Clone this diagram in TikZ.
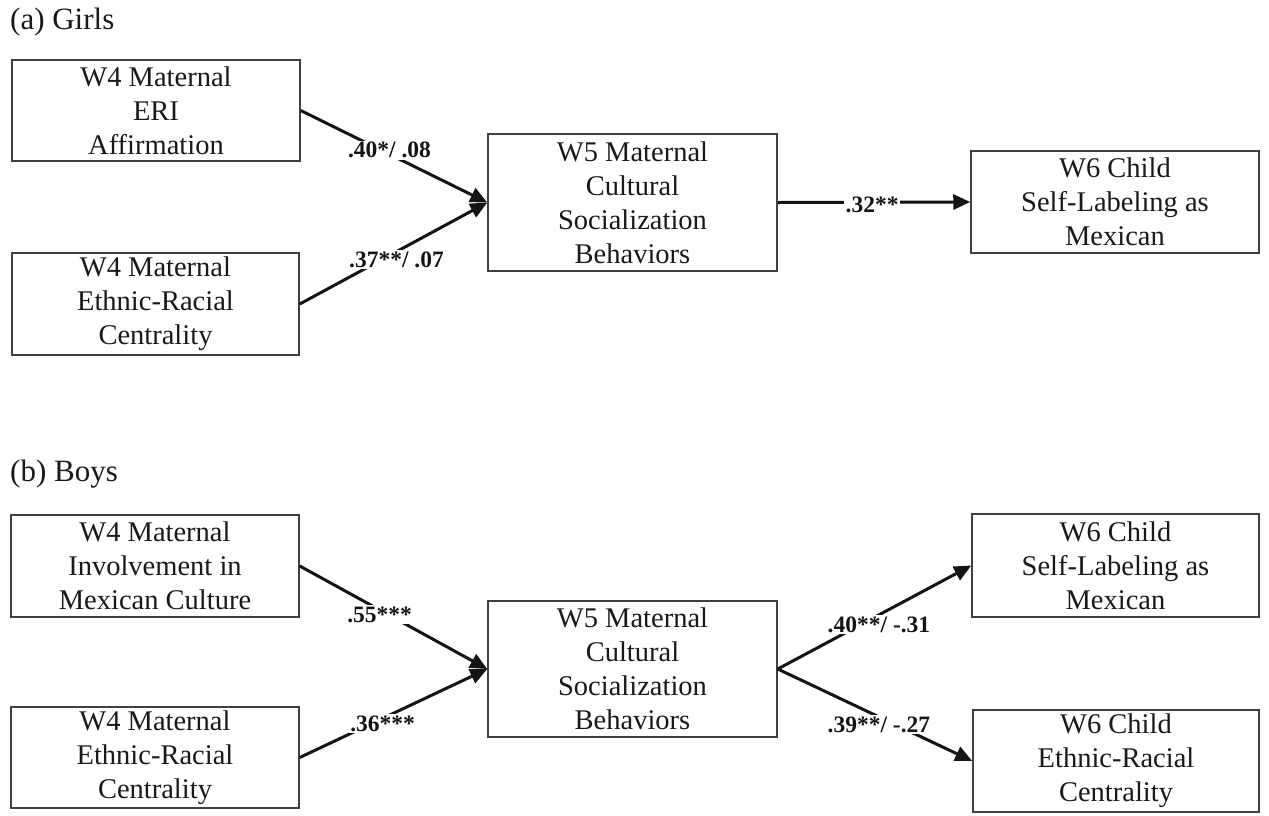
\documentclass[tikz,border=0pt]{standalone}
\usepackage{fontspec}
\setmainfont{Liberation Serif}
\usetikzlibrary{arrows.meta}
\begin{document}
\begin{tikzpicture}[x=1pt,y=-1pt,
  box/.style={draw=black!75, line width=1.5pt, rectangle, align=center, inner sep=0pt,
    font=\fontsize{28.5}{34}\selectfont, text=black!90},
  arr/.style={line width=3pt, -{Triangle[length=17pt,width=15pt]}, black!92},
  lbl/.style={fill=white, inner sep=1.5pt, font=\bfseries\fontsize{23.5}{28}\selectfont, text=black!92},
  ttl/.style={anchor=base west, inner sep=0pt, font=\fontsize{31}{36}\selectfont, text=black!90}]
\useasboundingbox (0,0) rectangle (1269,815);
% (a) Girls
\node[ttl] (ta) at (10,29) {(a) Girls};
\node[box, minimum width=288, minimum height=101] (A1) at (156,110.5) {W4 Maternal\\ERI\\Affirmation};
\node[box, minimum width=287, minimum height=102] (A2) at (155.5,304) {W4 Maternal\\Ethnic-Racial\\Centrality};
\node[box, minimum width=289, minimum height=137] (MG) at (632.5,202.5) {W5 Maternal\\Cultural\\Socialization\\Behaviors};
\node[box, minimum width=288, minimum height=102] (CG) at (1115,202) {W6 Child\\Self-Labeling as\\Mexican};
\draw[arr] (A1.east) -- node[lbl, pos=0.476, yshift=4pt] {.40*/ .08} (MG.west);
\draw[arr] (A2.east) -- node[lbl, pos=0.516, yshift=-8pt] {.37**/ .07} (MG.west);
\draw[arr] (MG.east) -- node[lbl, pos=0.49, yshift=-3pt] {.32**} (CG.west);
% (b) Boys
\node[ttl] (tb) at (10,481) {(b) Boys};
\node[box, minimum width=288, minimum height=102] (B1) at (155,566) {W4 Maternal\\Involvement in\\Mexican Culture};
\node[box, minimum width=288, minimum height=101] (B2) at (155,757.5) {W4 Maternal\\Ethnic-Racial\\Centrality};
\node[box, minimum width=289, minimum height=136] (MB) at (632.5,669) {W5 Maternal\\Cultural\\Socialization\\Behaviors};
\node[box, minimum width=287, minimum height=103] (C1) at (1115.5,565.5) {W6 Child\\Self-Labeling as\\Mexican};
\node[box, minimum width=286, minimum height=102] (C2) at (1116,761) {W6 Child\\Ethnic-Racial\\Centrality};
\draw[arr] (B1.east) -- node[lbl, pos=0.426, yshift=-5pt] {.55***} (MB.west);
\draw[arr] (B2.east) -- node[lbl, pos=0.442, yshift=-5pt] {.36***} (MB.west);
\draw[arr] (MB.east) -- node[lbl, pos=0.523, yshift=-10pt] {.40**/ -.31} (C1.west);
\draw[arr] (MB.east) -- node[lbl, pos=0.52, yshift=-8pt] {.39**/ -.27} (C2.west);
\end{tikzpicture}
\end{document}
